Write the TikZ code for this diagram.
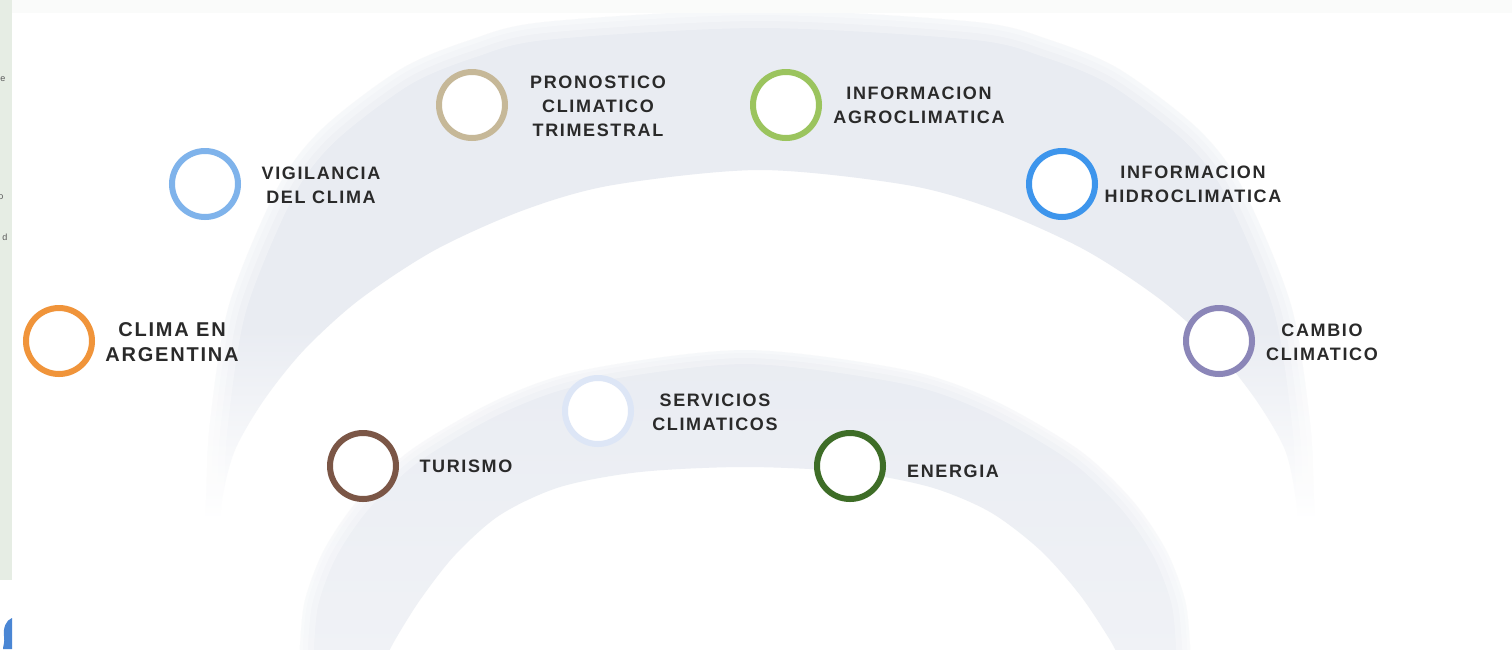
\documentclass[tikz,border=0pt]{standalone}
\usepackage{fontspec}
\setmainfont{Liberation Sans}
\newfontfamily\labelfont[LetterSpace=9]{Liberation Sans}
\usepackage{xcolor}
\definecolor{bandgray}{HTML}{E9ECF2}
\definecolor{bandlight}{HTML}{F0F2F6}
\definecolor{sidebar}{HTML}{E6EDE4}
\definecolor{topstrip}{HTML}{FAFBFA}
\definecolor{labeltext}{HTML}{2A2A2A}
\definecolor{logoblue}{HTML}{4A86D4}
\definecolor{ringorange}{HTML}{F0943A}
\definecolor{ringsky}{HTML}{7FB3EB}
\definecolor{ringtan}{HTML}{C6B898}
\definecolor{ringlime}{HTML}{9BC45E}
\definecolor{ringblue}{HTML}{3D95EC}
\definecolor{ringlilac}{HTML}{8B86B8}
\definecolor{ringbrown}{HTML}{7B5646}
\definecolor{ringpale}{HTML}{DDE6F6}
\definecolor{ringforest}{HTML}{3E6D27}
\tikzset{
  ring/.style={circle, draw=#1, line width=6pt, fill=white, minimum size=66pt, inner sep=0pt},
  lbl/.style={align=center, inner sep=0pt, text=labeltext, font=\labelfont\bfseries\fontsize{18}{24}\selectfont},
  rim/.style={draw=white, opacity=.3, line width=#1, line cap=round}
}
\begin{document}
\begin{tikzpicture}[x=1pt,y=-1pt]
    \useasboundingbox (0,0) rectangle (1512,649);
    \fill[white] (0,0) rectangle (1512,649);
    \begin{scope}
        \clip plot[smooth] coordinates {(204,545) (206,500) (210,423) (229,305) (278,187) (323,128) (401,69) (470,40) (544,22) (760,10) (976,22) (1050,40) (1119,69) (1197,128) (1242,187) (1291,305) (1310,423) (1314,500) (1316,545)}
            -- plot[smooth] coordinates {(1300,545) (1296,500) (1285,450) (1256,400) (1216,350) (1161,300) (1085,250) (996,210) (907,185) (760,170) (613,185) (524,210) (435,250) (359,300) (304,350) (264,400) (235,450) (222,500) (220,545)} -- cycle;
        \fill[bandgray] (0,0) rectangle (1512,330);
        \shade[top color=bandgray, bottom color=white] (0,330) rectangle (1512,520);
    \end{scope}
    \foreach \w in {36,22,10}
        \draw[rim=\w pt] plot[smooth] coordinates {(204,545) (206,500) (210,423) (229,305) (278,187) (323,128) (401,69) (470,40) (544,22) (760,10) (976,22) (1050,40) (1119,69) (1197,128) (1242,187) (1291,305) (1310,423) (1314,500) (1316,545)};
    \begin{scope}
        \clip plot[smooth] coordinates {(300,660) (300,645) (305,600) (324,550) (358,500) (411,450) (497,400) (584,370) (745,350) (906,370) (993,400) (1079,450) (1132,500) (1166,550) (1185,600) (1190,645) (1190,660)}
            -- plot[smooth] coordinates {(1120,660) (1110,640) (1080,595) (1040,550) (990,512) (930,487) (850,472) (745,467) (640,472) (560,487) (500,515) (455,555) (420,600) (395,640) (385,660)} -- cycle;
        \shade[top color=bandgray, bottom color=bandlight] (0,340) rectangle (1512,660);
    \end{scope}
    \foreach \w in {28,16,6}
        \draw[rim=\w pt] plot[smooth] coordinates {(300,660) (300,645) (305,600) (324,550) (358,500) (411,450) (497,400) (584,370) (745,350) (906,370) (993,400) (1079,450) (1132,500) (1166,550) (1185,600) (1190,645) (1190,660)};
    \fill[topstrip] (12,0) rectangle (1512,13);
    \fill[sidebar] (0,0) rectangle (12,580);
    \begin{scope}
        \clip (0,0) rectangle (12,580);
        \node[text=black!65, font=\fontsize{9}{9}\selectfont, inner sep=0pt] (sidee) at (3,79) {e};
        \node[text=black!65, font=\fontsize{9}{9}\selectfont, inner sep=0pt] (sideo) at (1,197) {o};
        \node[text=black!65, font=\fontsize{9}{9}\selectfont, inner sep=0pt] (sided) at (5,237) {d};
    \end{scope}
    \fill[logoblue] (12,618) .. controls (6,620) and (3,628) .. (4,636) .. controls (5,642) and (3,646) .. (3,649) -- (12,649) -- cycle;
    \node[ring=ringorange] (argring) at (59,341) {};
    \node[lbl, font=\labelfont\bfseries\fontsize{20}{25}\selectfont] (arglbl) at (172,342) {CLIMA EN\\ARGENTINA};
    \node[ring=ringsky] (vigring) at (205,184) {};
    \node[lbl] (viglbl) at (321,185) {VIGILANCIA\\DEL CLIMA};
    \node[ring=ringtan] (pronring) at (472,105) {};
    \node[lbl] (pronlbl) at (598,106) {PRONOSTICO\\CLIMATICO\\TRIMESTRAL};
    \node[ring=ringlime] (agroring) at (786,105) {};
    \node[lbl] (agrolbl) at (919,105) {INFORMACION\\AGROCLIMATICA};
    \node[ring=ringblue] (hidroring) at (1062,184) {};
    \node[lbl] (hidrolbl) at (1193,184) {INFORMACION\\HIDROCLIMATICA};
    \node[ring=ringlilac] (cambioring) at (1219,341) {};
    \node[lbl] (cambiolbl) at (1322,342) {CAMBIO\\CLIMATICO};
    \node[ring=ringpale] (servring) at (598,411) {};
    \node[lbl] (servlbl) at (715,412) {SERVICIOS\\CLIMATICOS};
    \node[ring=ringbrown] (turring) at (363,466) {};
    \node[lbl] (turlbl) at (466,466) {TURISMO};
    \node[ring=ringforest] (enerring) at (850,466) {};
    \node[lbl] (enerlbl) at (953,471) {ENERGIA};
\end{tikzpicture}
\end{document}
